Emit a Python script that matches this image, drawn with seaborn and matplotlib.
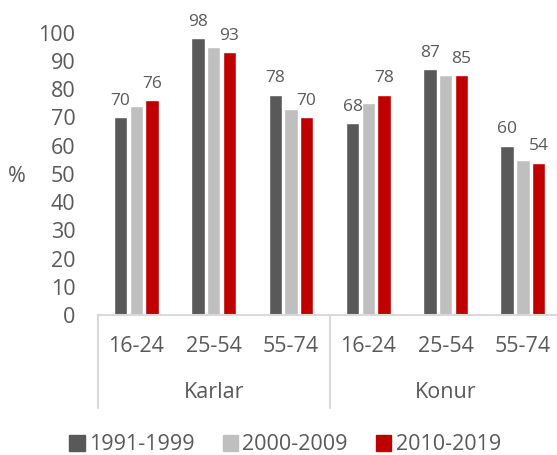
import matplotlib
matplotlib.use("Agg")
import matplotlib.pyplot as plt
import matplotlib.transforms as mtransforms
import pandas as pd
import seaborn as sns

# values
age_groups = ["16-24", "25-54", "55-74"]
sexes = ["Karlar", "Konur"]
periods = ["1991-1999", "2000-2009", "2010-2019"]
v_1991 = [70, 98, 78, 68, 87, 60]
v_2000 = [74, 95, 73, 75, 85, 55]
v_2010 = [76, 93, 70, 78, 85, 54]
colors = ["#595959", "#bfbfbf", "#c00000"]
text_color = "#595959"
line_color = "#d9d9d9"

keys = [f"{s} {a}" for s in sexes for a in age_groups]
rows = []
for period, vals in zip(periods, [v_1991, v_2000, v_2010]):
    for key, v in zip(keys, vals):
        rows.append({"key": key, "period": period, "value": v})
df = pd.DataFrame(rows)

sns.set_theme(style="white")
plt.rcParams["font.family"] = ["Open Sans", "DejaVu Sans"]

fig = plt.figure(figsize=(5.57, 4.55), dpi=100)
ax = fig.add_axes([97.7 / 557, 140 / 455, 463.8 / 557, 282.3 / 455])

sns.barplot(data=df, x="key", y="value", hue="period", order=keys, hue_order=periods,
            palette=colors, width=0.61, gap=0.15, saturation=1, legend=False, ax=ax)

ax.set_ylim(0, 100)
ax.set_xlim(-0.5, 5.5)
ax.set_yticks(range(0, 101, 10))
ax.set_xticks(range(len(keys)))
ax.set_xticklabels(age_groups * 2)
ax.tick_params(axis="y", length=0, pad=16, labelsize=15.5, labelcolor=text_color)
ax.tick_params(axis="x", length=0, pad=15, labelsize=15.5, labelcolor=text_color)
ax.set_xlabel("")
ax.set_ylabel("")
for side in ["left", "right", "top"]:
    ax.spines[side].set_visible(False)
ax.spines["bottom"].set_color(line_color)
ax.spines["bottom"].set_linewidth(1.5)

# data labels on first and last series only
for idx in (0, 2):
    ax.bar_label(ax.containers[idx], padding=6, fontsize=12.5, color=text_color)

# category separators and sex labels
trans = mtransforms.blended_transform_factory(ax.transData, ax.transAxes)
for xpos in (-0.5, 2.5, 5.5):
    ax.plot([xpos, xpos], [0, -0.33], transform=trans, color=line_color,
            lw=1.5, clip_on=False)
for i, s in enumerate(sexes):
    ax.text(1 + 3 * i, -0.276, s, transform=trans, ha="center", va="center",
            fontsize=15.5, color=text_color)

fig.text(17 / 557, 1 - 176 / 455, "%", ha="center", va="center",
         fontsize=15.5, color=text_color)

handles = [plt.Rectangle((0, 0), 1, 1, color=c) for c in colors]
fig.legend(handles, periods, loc="center", bbox_to_anchor=(285 / 557, 1 - 445 / 455),
           ncol=3, frameon=False, fontsize=15.5, handlelength=0.72, handleheight=0.72,
           handletextpad=0.2, columnspacing=1.3, labelcolor=text_color)

fig.savefig("out.png", dpi=100)
